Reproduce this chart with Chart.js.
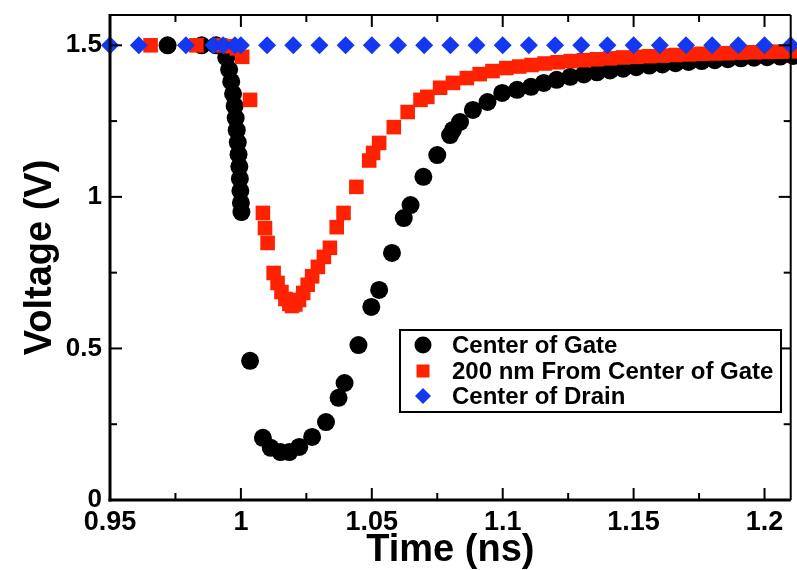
<!DOCTYPE html>
<html>
<head>
<meta charset="utf-8">
<script src="https://cdn.jsdelivr.net/npm/chart.js@4.4.1/dist/chart.umd.min.js"></script>
<style>
  html, body { margin: 0; padding: 0; background: #fff; overflow: hidden; }
  canvas { display: block; }
</style>
</head>
<body>
<canvas id="c" width="801" height="570"></canvas>
<script>
// Transient voltage at three probe locations (time in ns, voltage in V)
const gateTime = [0.972, 0.985, 0.9905, 0.9935, 0.9944, 0.9955, 0.9963, 0.997, 0.9976, 0.998, 0.9984, 0.9988,
  0.9991, 0.9994, 0.9996, 0.9998, 1.0, 1.0002,
  1.0035, 1.0084, 1.0114, 1.0151, 1.0185, 1.0223, 1.0272, 1.0325, 1.0373, 1.0396, 1.0449, 1.0498, 1.0528,
  1.0577, 1.0622, 1.0648, 1.0697, 1.075, 1.0799, 1.081, 1.0837, 1.0886, 1.0942, 1.0998, 1.1055, 1.1108,
  1.1157, 1.1206, 1.1258,
  1.131, 1.136, 1.141, 1.146, 1.151, 1.156, 1.161, 1.166, 1.171, 1.176, 1.181, 1.186, 1.191, 1.196, 1.201, 1.206, 1.211];
const gateVolt = [1.5, 1.5, 1.5, 1.495, 1.46, 1.42, 1.38, 1.34, 1.30, 1.26, 1.22, 1.18,
  1.14, 1.10, 1.06, 1.02, 0.98, 0.95,
  0.459, 0.205, 0.172, 0.158, 0.158, 0.175, 0.208, 0.257, 0.337, 0.386, 0.511, 0.637, 0.693,
  0.815, 0.93, 0.973, 1.066, 1.138, 1.204, 1.221, 1.247, 1.287, 1.313, 1.343, 1.353, 1.363,
  1.376, 1.386, 1.396,
  1.404, 1.411, 1.417, 1.423, 1.428, 1.433, 1.437, 1.441, 1.445, 1.448, 1.451, 1.454, 1.457, 1.459, 1.461, 1.463, 1.465];

const offsetTime = [0.9655, 0.983, 0.9915, 0.996, 0.9985, 1.0005, 1.0035, 1.0084, 1.0092, 1.0102,
  1.0125, 1.014, 1.0155, 1.017, 1.0185, 1.0195, 1.0208, 1.0222, 1.0238, 1.0255, 1.0272, 1.0294, 1.0317, 1.034,
  1.0366, 1.0392, 1.0441, 1.049, 1.0505, 1.0528, 1.0584, 1.0637, 1.0686, 1.0712, 1.0761, 1.081, 1.0863,
  1.0912, 1.0961, 1.1014, 1.1063, 1.111, 1.116, 1.121, 1.126, 1.131, 1.136, 1.141, 1.146, 1.151, 1.156,
  1.161, 1.166, 1.171, 1.176, 1.181, 1.186, 1.191, 1.196, 1.201, 1.206, 1.211];
const offsetVolt = [1.5, 1.5, 1.5, 1.497, 1.49, 1.462, 1.32, 0.947, 0.897, 0.848,
  0.749, 0.716, 0.686, 0.663, 0.647, 0.64, 0.645, 0.66, 0.683, 0.71, 0.738, 0.769, 0.802, 0.832,
  0.90, 0.947, 1.033, 1.12, 1.145, 1.178, 1.23, 1.28, 1.32, 1.33, 1.36, 1.376, 1.392,
  1.405, 1.415, 1.425, 1.43, 1.435, 1.44, 1.444, 1.448, 1.451, 1.454, 1.457, 1.46, 1.462, 1.464,
  1.466, 1.468, 1.47, 1.472, 1.473, 1.474, 1.476, 1.477, 1.478, 1.479, 1.48];

const drainTime = [0.95, 0.961, 0.979, 0.9895, 0.9932, 0.9977, 1.0, 1.01, 1.02, 1.03, 1.04, 1.05, 1.06,
  1.07, 1.08, 1.09, 1.1, 1.11, 1.12, 1.13, 1.14, 1.15, 1.16, 1.17, 1.18, 1.19, 1.2, 1.21];
const drainVolt = [1.5, 1.5, 1.5, 1.5, 1.5, 1.5, 1.5, 1.5, 1.5, 1.5, 1.5, 1.5, 1.5,
  1.5, 1.5, 1.5, 1.5, 1.5, 1.5, 1.5, 1.5, 1.5, 1.5, 1.5, 1.5, 1.5, 1.5, 1.5];

const seriesNames = ['Center of Gate', '200 nm From Center of Gate', 'Center of Drain'];

// Axis ticks
const xTickValues = [0.95, 1.0, 1.05, 1.1, 1.15, 1.2];
const xTickLabels = ['0.95', '1', '1.05', '1.1', '1.15', '1.2'];
const xMinorTicks = [0.975, 1.025, 1.075, 1.125, 1.175];
const yTickValues = [0, 0.5, 1.0, 1.5];
const yTickLabels = ['0', '0.5', '1', '1.5'];
const yMinorTicks = [0.25, 0.75, 1.25];

const FONT = '"Liberation Sans", Arial, Helvetica, sans-serif';
const BLACK = '#000000', RED = '#ff2200', BLUE = '#1438f0';

const toPoints = (ts, vs) => ts.map((t, i) => ({ x: t, y: vs[i] }));

// Inward tick marks on all four sides plus the plot frame
const framePlugin = {
  id: 'frame',
  afterDatasetsDraw(chart) {
    const { ctx, chartArea: a, scales: { x, y } } = chart;
    const seg = (x1, y1, x2, y2) => { ctx.beginPath(); ctx.moveTo(x1, y1); ctx.lineTo(x2, y2); ctx.stroke(); };
    ctx.save();
    ctx.strokeStyle = '#000';
    ctx.lineWidth = 2;
    const xt = (v, len) => { const p = x.getPixelForValue(v); seg(p, a.bottom, p, a.bottom - len); seg(p, a.top, p, a.top + len); };
    const yt = (v, len) => { const p = y.getPixelForValue(v); seg(a.left, p, a.left + len, p); seg(a.right, p, a.right - len, p); };
    xTickValues.forEach(v => xt(v, 12));
    xMinorTicks.forEach(v => xt(v, 7));
    yTickValues.forEach(v => yt(v, 12));
    yMinorTicks.forEach(v => yt(v, 7));
    ctx.lineWidth = 3;
    seg(a.left, a.top - 1, a.left, a.bottom + 1.5);
    seg(a.left - 1.5, a.bottom, a.right, a.bottom);
    ctx.lineWidth = 2;
    seg(a.left, a.top, a.right, a.top);
    seg(a.right, a.top, a.right, a.bottom);
    ctx.restore();
  }
};

// Boxed legend inside the plot area
const legendPlugin = {
  id: 'boxLegend',
  afterDraw(chart) {
    const { ctx } = chart;
    const box = { l: 400, t: 330, w: 381, h: 82 };
    ctx.save();
    ctx.fillStyle = '#fff';
    ctx.fillRect(box.l, box.t, box.w, box.h);
    ctx.strokeStyle = '#000';
    ctx.lineWidth = 2;
    ctx.strokeRect(box.l, box.t, box.w, box.h);
    const rows = [345, 371, 396];
    chart.data.datasets.forEach((ds, i) => {
      const cx = 423, cy = rows[i];
      ctx.fillStyle = ds.backgroundColor;
      ctx.beginPath();
      if (ds.pointStyle === 'circle') {
        ctx.arc(cx, cy, 8.5, 0, Math.PI * 2);
      } else if (ds.pointStyle === 'rect') {
        ctx.rect(cx - 6.5, cy - 6.5, 13, 13);
      } else {
        ctx.moveTo(cx - 8, cy); ctx.lineTo(cx, cy - 8); ctx.lineTo(cx + 8, cy); ctx.lineTo(cx, cy + 8); ctx.closePath();
      }
      ctx.fill();
      ctx.fillStyle = '#000';
      ctx.font = 'bold 24px ' + FONT;
      ctx.textAlign = 'left';
      ctx.textBaseline = 'middle';
      ctx.fillText(ds.label, 452, cy + 1);
    });
    ctx.restore();
  }
};

const zeroPad = s => { s.paddingTop = 0; s.paddingBottom = 0; s.paddingLeft = 0; s.paddingRight = 0; };

new Chart(document.getElementById('c'), {
  type: 'scatter',
  data: {
    datasets: [
      { label: seriesNames[0], data: toPoints(gateTime, gateVolt), pointStyle: 'circle', pointRadius: 9,
        backgroundColor: BLACK, borderColor: BLACK, pointBorderWidth: 0, order: 3, clip: false },
      { label: seriesNames[1], data: toPoints(offsetTime, offsetVolt), pointStyle: 'rect', pointRadius: 10.3,
        backgroundColor: RED, borderColor: RED, pointBorderWidth: 0, order: 2, clip: false },
      { label: seriesNames[2], data: toPoints(drainTime, drainVolt), pointStyle: 'rectRot', pointRadius: 9,
        backgroundColor: BLUE, borderColor: BLUE, pointBorderWidth: 0, order: 1, clip: false }
    ]
  },
  options: {
    responsive: false,
    animation: false,
    devicePixelRatio: 1,
    layout: { padding: { top: 15, right: 0, bottom: 0, left: 0 } },
    plugins: { legend: { display: false }, tooltip: { enabled: false } },
    elements: { point: { hoverRadius: 9 } },
    scales: {
      x: {
        type: 'linear', min: 0.95, max: 1.21,
        grid: { display: false, drawTicks: false }, border: { display: false },
        afterBuildTicks: s => { s.ticks = xTickValues.map(v => ({ value: v })); },
        afterFit: s => { s.height = 70; zeroPad(s); },
        ticks: { autoSkip: false, maxRotation: 0, padding: 9, color: '#000',
          font: { family: FONT, size: 27, weight: 'bold', lineHeight: 1 },
          callback: (v, i) => xTickLabels[i] },
        title: { display: true, text: 'Time (ns)', color: '#000', padding: { top: 0, bottom: 0 },
          font: { family: FONT, size: 38, weight: 'bold', lineHeight: 1.05 } }
      },
      y: {
        type: 'linear', min: 0, max: 1.6,
        grid: { display: false, drawTicks: false }, border: { display: false },
        afterBuildTicks: s => { s.ticks = yTickValues.map(v => ({ value: v })); },
        afterFit: s => { s.width = 110; zeroPad(s); },
        ticks: { autoSkip: false, padding: 8, color: '#000',
          font: { family: FONT, size: 26, weight: 'bold', lineHeight: 1 },
          callback: (v, i) => yTickLabels[i] },
        title: { display: true, text: 'Voltage (V)', color: '#000', padding: { top: 18, bottom: 0 },
          font: { family: FONT, size: 38, weight: 'bold', lineHeight: 1.2 } }
      }
    }
  },
  plugins: [framePlugin, legendPlugin]
});
</script>
</body>
</html>
